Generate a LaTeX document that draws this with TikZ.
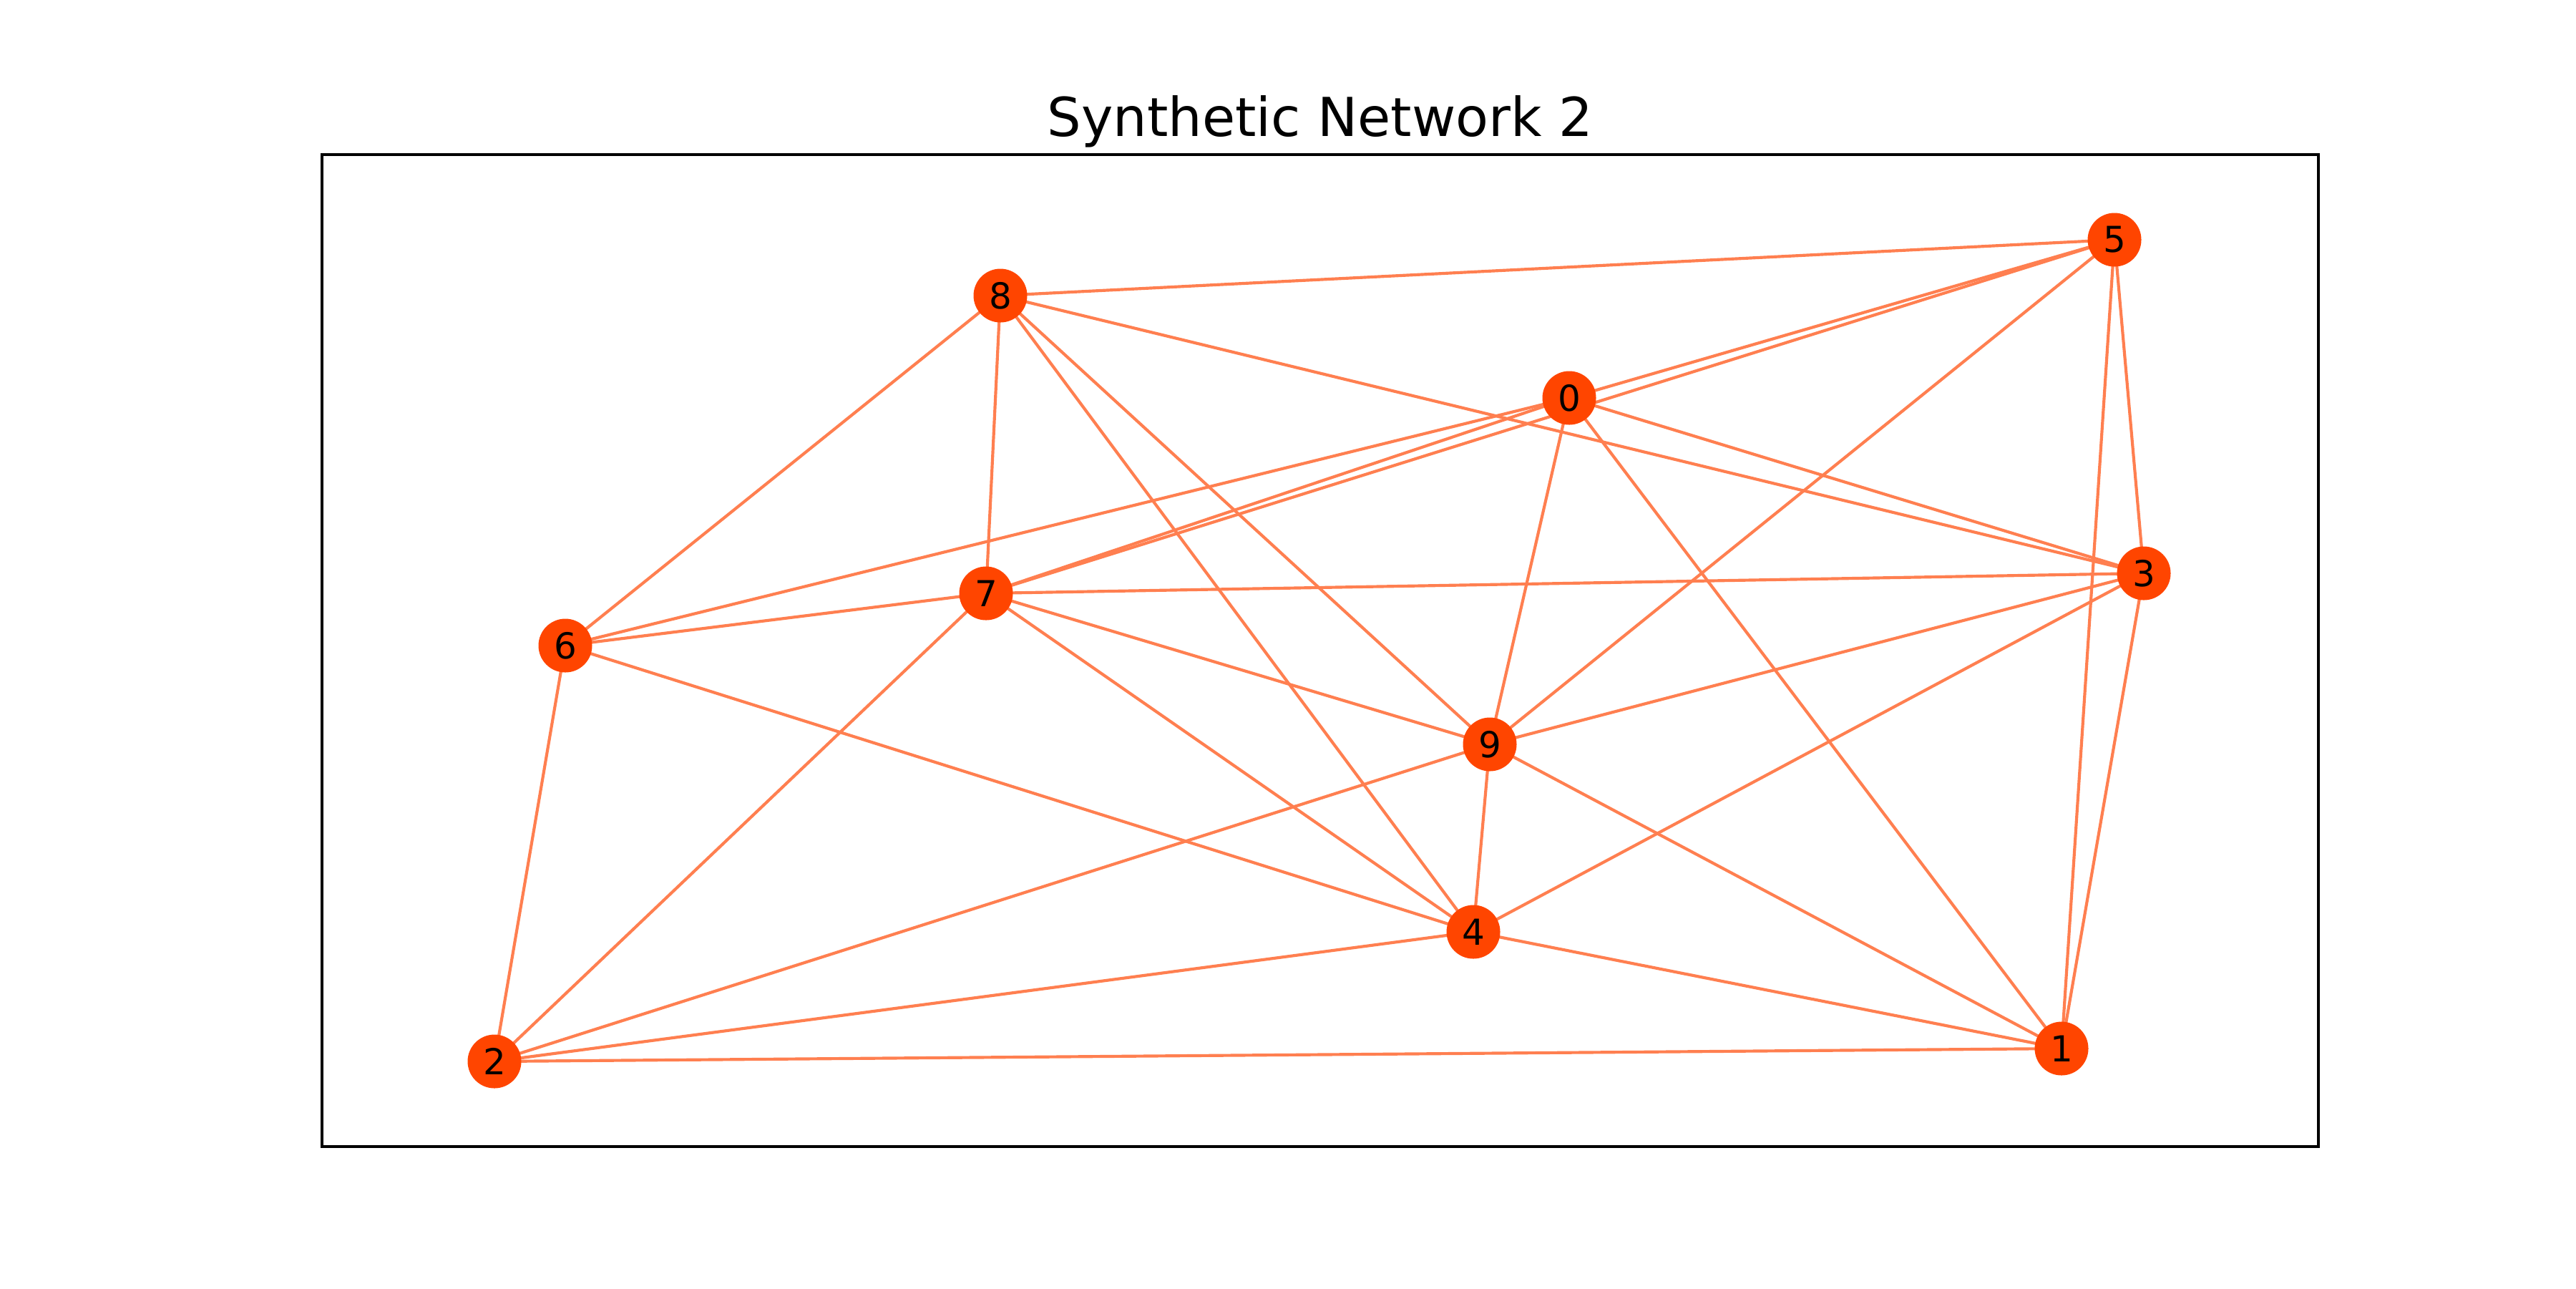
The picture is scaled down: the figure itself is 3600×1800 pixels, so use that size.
\documentclass[tikz,border=0pt]{standalone}
\usepackage{fontspec}
\setmainfont{DejaVu Sans}
\usetikzlibrary{backgrounds}
\definecolor{nodeorange}{HTML}{FF4500}
\definecolor{edgecoral}{HTML}{FF7F50}

\begin{document}
\begin{tikzpicture}[x=0.24pt,y=-0.24pt,
  vertex/.style={circle,fill=nodeorange,inner sep=0pt,minimum size=18pt,font=\fontsize{12}{14}\selectfont},
  link/.style={edgecoral,line width=1pt}]
\useasboundingbox (0,0) rectangle (3600,1800);
\draw[line width=0.8pt] (450,216) rectangle (3240,1602);
\node[font=\fontsize{18}{22}\selectfont,anchor=base] (title) at (1845,190) {Synthetic Network 2};
% nodes
\node[vertex] (n0) at (2193,556) {0};
\node[vertex] (n1) at (2881,1465) {1};
\node[vertex] (n2) at (691,1483) {2};
\node[vertex] (n3) at (2996,801) {3};
\node[vertex] (n4) at (2059,1302) {4};
\node[vertex] (n5) at (2955,335) {5};
\node[vertex] (n6) at (790,902) {6};
\node[vertex] (n7) at (1378,829) {7};
\node[vertex] (n8) at (1398,413) {8};
\node[vertex] (n9) at (2082,1040) {9};
% edges
\begin{pgfonlayer}{background}
\foreach \a/\b in {8/5,8/6,8/7,8/4,8/9,8/3,0/5,0/7,0/6,0/3,0/9,0/1,5/7,5/9,5/3,5/1,
  7/3,7/6,7/9,7/4,7/2,6/4,6/2,3/9,3/4,3/1,9/4,9/2,9/1,4/2,4/1,2/1}
  \draw[link] (n\a.center) -- (n\b.center);
\end{pgfonlayer}
\end{tikzpicture}
\end{document}
